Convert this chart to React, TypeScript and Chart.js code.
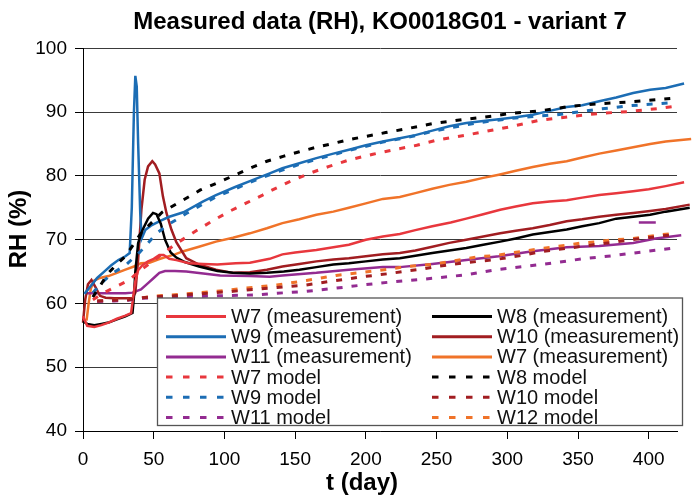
import React, { useEffect, useRef } from 'react';
import { Chart, registerables } from 'chart.js';

Chart.register(...registerables);

const FONT = "'Liberation Sans', Arial, Helvetica, sans-serif";

const chartTitle = 'Measured data (RH), KO0018G01 - variant 7';
const xAxisTitle = 't (day)';
const yAxisTitle = 'RH (%)';
const xRange = [0, 420];
const xStep = 50;
const yRange = [40, 100];
const yStep = 10;

type Pt = [number, number];

// measurements (solid)
const w7Measurement: Pt[] = [
  [0, 58.0], [3, 56.5], [8, 56.3], [13, 56.6], [18, 57.0], [24, 57.6], [30, 58.1], [34, 58.5],
  [35.5, 61], [37, 63.5], [39, 65.2], [42, 66.0], [46, 66.6], [50, 67.0], [54, 67.6], [57, 67.6],
  [61, 67.0], [66, 66.8], [75, 66.3], [85, 66.2], [95, 66.1], [108, 66.3], [118, 66.4], [132, 67.0],
  [141, 67.7], [150, 68.0], [165, 68.4], [177, 68.8], [188, 69.2], [200, 70.0], [212, 70.5],
  [224, 70.9], [235, 71.5], [247, 72.1], [260, 72.7], [271, 73.3], [283, 74.0], [295, 74.7],
  [306, 75.2], [318, 75.7], [330, 76.0], [342, 76.2], [353, 76.6], [365, 77.0], [377, 77.3],
  [389, 77.6], [400, 77.9], [412, 78.4], [425, 79.0],
];
const w8Measurement: Pt[] = [
  [0, 57.2], [3, 56.8], [8, 56.6], [13, 56.8], [18, 57.0], [24, 57.5], [30, 58.0], [35, 58.5],
  [36, 61], [37, 65], [39, 69.5], [42, 71.5], [46, 73.3], [49.5, 74.2], [52, 74.0], [55, 72.5],
  [58, 70.0], [62, 68.0], [66, 67.2], [72, 66.5], [82, 65.8], [95, 65.1], [106, 64.8], [118, 64.7],
  [130, 64.8], [142, 65.0], [153, 65.3], [165, 65.7], [177, 66.1], [188, 66.3], [200, 66.6],
  [212, 66.9], [224, 67.1], [235, 67.5], [247, 67.9], [259, 68.3], [271, 68.7], [283, 69.2],
  [295, 69.7], [306, 70.2], [318, 70.8], [330, 71.2], [342, 71.6], [353, 72.1], [365, 72.6],
  [377, 73.3], [389, 73.6], [401, 73.9], [412, 74.4], [429, 75.0],
];
const w9Measurement: Pt[] = [
  [1, 61.5], [5, 62.6], [10, 64.0], [15, 65.0], [20, 66.0], [25, 66.8], [30, 67.4], [33, 67.9],
  [34.5, 75], [36, 90], [37, 95.7], [38, 94], [39, 85], [40.5, 74], [41.5, 70.2], [44, 71.5],
  [48, 72.2], [55, 73.0], [61, 73.6], [71, 74.3], [85, 76.0], [94, 77.0], [108, 78.3], [118, 79.2],
  [132, 80.4], [141, 81.2], [153, 82.0], [165, 82.8], [177, 83.5], [188, 84.1], [200, 84.8],
  [212, 85.4], [224, 85.9], [235, 86.4], [247, 87.1], [259, 87.8], [271, 88.3], [283, 88.6],
  [294, 88.9], [306, 89.2], [318, 89.6], [330, 90.2], [342, 90.8], [353, 91.1], [365, 91.7],
  [377, 92.3], [389, 93.0], [401, 93.5], [412, 93.8], [425, 94.5],
];
const w10Measurement: Pt[] = [
  [0, 57.0], [1.5, 60.5], [3.5, 63.0], [6, 63.7], [9, 62.5], [12, 61.2], [16, 60.9], [22, 60.8],
  [28, 60.8], [35, 60.8], [37, 61.7], [39, 66.9], [41.3, 74.7], [43.6, 79.4], [46, 81.5], [49, 82.3],
  [51, 81.8], [54, 80.4], [56.5, 76.8], [59, 74.2], [62.5, 71.6], [66, 69.6], [73, 67.1], [82, 66.1],
  [94, 65.3], [106, 64.8], [118, 64.9], [130, 65.3], [141, 65.8], [153, 66.2], [165, 66.6],
  [177, 66.9], [188, 67.1], [200, 67.4], [212, 67.7], [224, 67.9], [235, 68.3], [247, 68.9],
  [259, 69.5], [271, 70.0], [283, 70.5], [295, 71.0], [306, 71.4], [318, 71.8], [330, 72.3],
  [342, 72.9], [353, 73.2], [365, 73.6], [377, 73.9], [389, 74.2], [401, 74.5], [412, 74.8],
  [429, 75.5],
];
const w11Measurement: Pt[] = [
  [2, 61.6], [10, 61.6], [20, 61.6], [30, 61.6], [35, 61.7], [41, 62.2], [46, 63.2], [50, 64.0],
  [54, 64.8], [58, 65.1], [65, 65.1], [73, 65.0], [85, 64.7], [97, 64.4], [118, 64.3], [132, 64.2],
  [141, 64.4], [165, 64.8], [188, 65.3], [212, 65.7], [224, 65.7], [247, 66.2], [271, 66.8],
  [294, 67.4], [318, 68.2], [342, 68.8], [365, 69.0], [389, 69.5], [405, 70.2], [423, 70.7],
];
const w11MeasurementPiece: Pt[] = [[393, 72.7], [405, 72.7]];
const w7bMeasurement: Pt[] = [
  [2.5, 57.3], [4, 60.0], [5.5, 62.3], [8, 63.6], [12, 64.0], [18, 64.3], [24, 64.8], [30, 65.3],
  [36, 65.8], [41, 66.3], [47, 66.4], [53, 66.9], [59, 67.3], [65, 67.7], [71, 68.2], [82, 68.9],
  [94, 69.7], [106, 70.3], [118, 71.0], [130, 71.8], [141, 72.6], [153, 73.2], [165, 73.9],
  [177, 74.4], [188, 75.0], [200, 75.7], [212, 76.4], [224, 76.7], [235, 77.3], [247, 78.0],
  [259, 78.6], [271, 79.1], [283, 79.7], [294, 80.2], [306, 80.8], [318, 81.4], [330, 81.9],
  [342, 82.3], [353, 82.9], [365, 83.5], [377, 84.0], [389, 84.5], [401, 85.0], [412, 85.4],
  [430, 85.8],
];

// models (dashed)
const w7Model: Pt[] = [
  [7, 60.6], [14, 61.6], [22, 62.5], [33, 63.7], [41, 65.3], [48, 66.4], [54, 67.4], [60, 68.4],
  [66, 69.4], [73, 70.4], [80, 71.4], [92, 73.0], [104, 74.5], [116, 75.8], [127, 77.0], [132, 77.6],
  [145, 79.0], [160, 80.4], [174, 81.5], [188, 82.5], [205, 83.4], [222, 84.2], [236, 84.8],
  [250, 85.6], [271, 86.4], [290, 87.2], [302, 87.7], [322, 88.7], [344, 89.3], [365, 89.8],
  [386, 90.1], [408, 90.6], [418, 90.9],
];
const w8Model: Pt[] = [
  [7, 61.0], [11, 62.4], [18, 64.8], [26, 66.6], [30, 67.4], [41, 71.0], [50, 73.0], [56, 74.3],
  [62, 75.1], [73, 76.5], [83, 77.8], [97, 79.1], [106, 80.0], [118, 81.2], [130, 82.3], [142, 83.1],
  [153, 83.8], [165, 84.5], [177, 85.1], [188, 85.7], [200, 86.2], [214, 86.8], [229, 87.4],
  [247, 88.2], [271, 88.9], [290, 89.4], [302, 89.8], [323, 90.2], [344, 90.9], [363, 91.3],
  [386, 91.6], [408, 92.0], [418, 92.2],
];
const w9Model: Pt[] = [
  [7, 61.7], [13, 63.2], [20, 64.6], [30, 66.0], [40, 68.0], [46, 69.5], [52, 71.0], [62, 72.6],
  [73, 74.1], [85, 75.6], [94, 76.7], [108, 78.0], [118, 79.0], [137, 80.6], [150, 81.6], [165, 82.6],
  [188, 84.0], [212, 85.3], [235, 86.3], [247, 87.0], [278, 88.3], [302, 89.0], [322, 89.4],
  [335, 89.6], [353, 90.1], [365, 90.5], [375, 90.7], [386, 91.0], [405, 91.3], [418, 91.5],
];
const w10Model: Pt[] = [
  [10, 60.4], [22, 60.5], [32, 60.6], [42, 60.9], [54, 61.1], [64, 61.2], [75, 61.4], [94, 61.7],
  [106, 61.9], [115, 62.1], [126, 62.3], [137, 62.5], [158, 62.9], [179, 63.6], [198, 64.2],
  [217, 64.7], [229, 65.1], [240, 65.4], [250, 65.8], [271, 66.4], [292, 66.9], [312, 67.6],
  [323, 68.1], [344, 68.7], [364, 69.3], [385, 69.9], [406, 70.5], [418, 70.8],
];
const w11Model: Pt[] = [
  [10, 60.3], [22, 60.4], [32, 60.5], [42, 60.8], [54, 61.0], [75, 61.1], [94, 61.2], [115, 61.3],
  [126, 61.4], [137, 61.6], [158, 61.9], [179, 62.4], [198, 62.9], [219, 63.4], [229, 63.6],
  [240, 63.8], [250, 64.0], [271, 64.5], [292, 65.3], [312, 65.8], [334, 66.4], [353, 67.0],
  [375, 67.5], [396, 68.1], [418, 68.7],
];
const w12Model: Pt[] = [
  [10, 60.4], [22, 60.5], [32, 60.6], [42, 60.9], [54, 61.2], [73, 61.5], [94, 61.9], [115, 62.4],
  [137, 62.9], [158, 63.6], [179, 64.4], [198, 64.9], [217, 65.4], [229, 65.8], [240, 66.0],
  [250, 66.2], [260, 66.6], [271, 67.0], [282, 67.4], [292, 67.5], [302, 67.9], [312, 68.2],
  [323, 68.6], [344, 69.2], [353, 69.5], [364, 69.7], [375, 70.0], [385, 70.1], [396, 70.4],
  [406, 70.7], [418, 71.0],
];

const RED = '#e8373d';
const BLACK = '#000000';
const BLUE = '#1c6db4';
const DARKRED = '#a11d21';
const PURPLE = '#932b91';
const ORANGE = '#f07329';

type Series = { label: string; data: Pt[]; color: string; dashed: boolean; legend: boolean };

// legend order (row-major, two columns)
const series: Series[] = [
  { label: 'W7 (measurement)', data: w7Measurement, color: RED, dashed: false, legend: true },
  { label: 'W8 (measurement)', data: w8Measurement, color: BLACK, dashed: false, legend: true },
  { label: 'W9 (measurement)', data: w9Measurement, color: BLUE, dashed: false, legend: true },
  { label: 'W10 (measurement)', data: w10Measurement, color: DARKRED, dashed: false, legend: true },
  { label: 'W11 (measurement)', data: w11Measurement, color: PURPLE, dashed: false, legend: true },
  { label: 'W7 (measurement)', data: w7bMeasurement, color: ORANGE, dashed: false, legend: true },
  { label: 'W7 model', data: w7Model, color: RED, dashed: true, legend: true },
  { label: 'W8 model', data: w8Model, color: BLACK, dashed: true, legend: true },
  { label: 'W9 model', data: w9Model, color: BLUE, dashed: true, legend: true },
  { label: 'W10 model', data: w10Model, color: DARKRED, dashed: true, legend: true },
  { label: 'W11 model', data: w11Model, color: PURPLE, dashed: true, legend: true },
  { label: 'W12 model', data: w12Model, color: ORANGE, dashed: true, legend: true },
  { label: 'W11 (measurement)', data: w11MeasurementPiece, color: PURPLE, dashed: false, legend: false },
];

const overlayPlugin = {
  id: 'overlay',
  afterDatasetsDraw(chart: any) {
    const ctx: CanvasRenderingContext2D = chart.ctx;
    const area = chart.chartArea;
    const boxL = area.left + 74.5;
    const boxR = area.right + 5.5;
    const boxT = 298;
    const boxB = area.bottom - 5.5;
    ctx.save();
    ctx.fillStyle = '#ffffff';
    ctx.fillRect(boxL, boxT, boxR - boxL, boxB - boxT);
    ctx.strokeStyle = '#555555';
    ctx.lineWidth = 1.3;
    ctx.strokeRect(boxL, boxT, boxR - boxL, boxB - boxT);

    const items = series.filter((s) => s.legend);
    const colLine = [boxL + 8.5, boxL + 274.5];
    const lineLen = 60;
    ctx.font = `20px ${FONT}`;
    ctx.textBaseline = 'middle';
    ctx.textAlign = 'left';
    items.forEach((s, i) => {
      const col = i % 2;
      const row = Math.floor(i / 2);
      const y = boxT + 18.5 + row * 20.2;
      const x0 = colLine[col];
      ctx.beginPath();
      ctx.strokeStyle = s.color;
      ctx.lineWidth = 3;
      ctx.lineCap = 'butt';
      if (s.dashed) {
        ctx.setLineDash([6.5, 10.5]);
        ctx.moveTo(x0, y);
        ctx.lineTo(x0 + 58, y);
      } else {
        ctx.setLineDash([]);
        ctx.moveTo(x0, y);
        ctx.lineTo(x0 + lineLen, y);
      }
      ctx.stroke();
      ctx.setLineDash([]);
      ctx.fillStyle = '#111111';
      ctx.fillText(s.label, x0 + 65, y + 1);
    });

    // axis titles
    ctx.fillStyle = '#000000';
    ctx.font = `bold 24px ${FONT}`;
    ctx.textAlign = 'center';
    ctx.textBaseline = 'middle';
    ctx.fillText(xAxisTitle, 362, 483);
    ctx.translate(19, 229);
    ctx.rotate(-Math.PI / 2);
    ctx.fillText(yAxisTitle, 0, 0);
    ctx.restore();
  },
};

export default function App() {
  const ref = useRef<HTMLCanvasElement>(null);
  useEffect(() => {
    if (!ref.current) return;
    const datasets = series.map((s) => ({
      label: s.label,
      data: s.data.map(([x, y]) => ({ x, y })),
      borderColor: s.color,
      backgroundColor: s.color,
      borderWidth: s.dashed ? 3 : 2.5,
      borderDash: s.dashed ? [6, 9] : [],
      borderCapStyle: 'butt' as const,
      pointRadius: 0,
      tension: 0,
      fill: false,
      clip: false as const,
      order: s.dashed ? 0 : 1,
    }));
    const chart = new Chart(ref.current, {
      type: 'line',
      data: { datasets },
      plugins: [overlayPlugin],
      options: {
        responsive: false,
        animation: false,
        devicePixelRatio: 1,
        layout: { padding: { left: 0, right: 15, top: 0, bottom: 0 } },
        plugins: {
          legend: { display: false },
          tooltip: { enabled: false },
          title: {
            display: true,
            text: chartTitle,
            fullSize: false,
            color: '#000',
            font: { family: FONT, size: 24, weight: 'bold' },
            padding: { top: 8, bottom: 11.6 },
          },
        },
        scales: {
          x: {
            type: 'linear',
            min: xRange[0],
            max: xRange[1],
            ticks: {
              stepSize: xStep,
              includeBounds: false,
              color: '#000',
              padding: 9,
              maxRotation: 0,
              autoSkip: false,
              font: { family: FONT, size: 19 },
            },
            grid: { drawOnChartArea: false, drawTicks: true, tickLength: 8, color: '#000', tickColor: '#000' },
            border: { color: '#000', width: 1 },
            afterFit: (s: any) => { s.height = 66; },
          },
          y: {
            type: 'linear',
            min: yRange[0],
            max: yRange[1],
            ticks: {
              stepSize: yStep,
              color: '#000',
              padding: 8,
              font: { family: FONT, size: 19 },
            },
            grid: { color: '#3a3a3a', lineWidth: 1, tickColor: '#000', tickLength: 8 },
            border: { color: '#000', width: 1 },
            afterFit: (s: any) => { s.width = 83; },
          },
        },
      },
    } as any);
    return () => chart.destroy();
  }, []);
  return (
    <div style={{ position: 'absolute', left: 0, top: 0, width: 692, height: 497, background: '#fff' }}>
      <canvas ref={ref} width={692} height={497} style={{ display: 'block' }} />
    </div>
  );
}
